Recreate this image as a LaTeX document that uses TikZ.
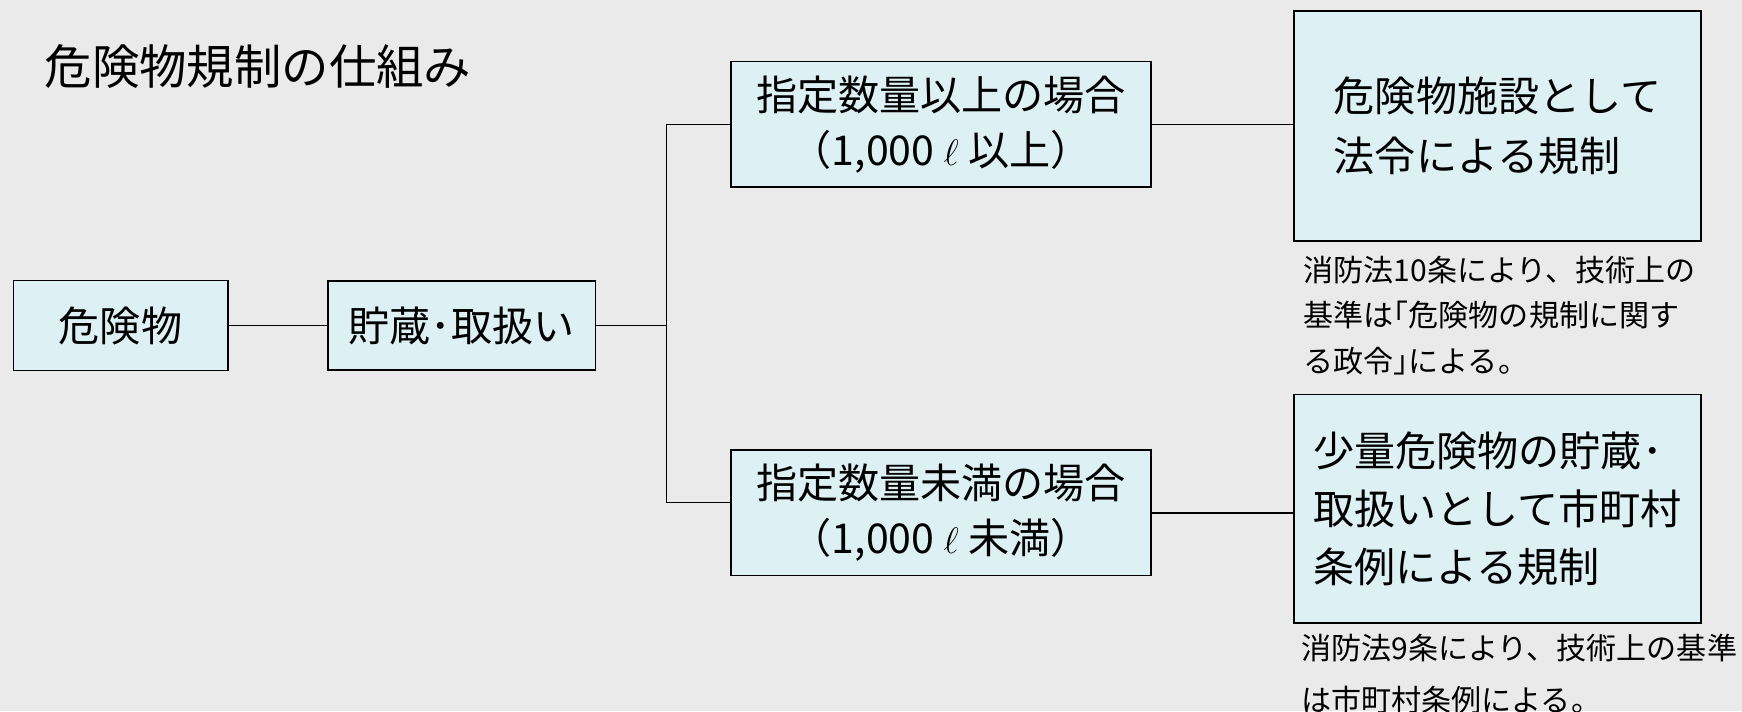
\documentclass[tikz,border=0pt]{standalone}
\usepackage{fontspec}
\setmainfont{Noto Sans CJK JP}
\definecolor{bggray}{RGB}{234,234,234}
\definecolor{boxcyan}{RGB}{221,240,243}

\begin{document}
\begin{tikzpicture}[x=0.75pt,y=0.75pt,yscale=-1,xscale=1,
    box/.style={draw=black, fill=boxcyan, line width=1.1pt, inner sep=0pt, font=\fontsize{27.75}{37.5}\selectfont},
    link/.style={draw=black, line width=1.1pt},
    note/.style={anchor=west, inner sep=0pt, align=left, font=\fontsize{20.3}{30.75}\selectfont}]

            % Background
            \useasboundingbox (0,0) rectangle (1568,640);
            \fill[bggray] (0,0) rectangle (1568,640);

            % Title
            \node (title) [anchor=west, inner sep=0pt, font=\fontsize{32}{38}\selectfont] at (40,60) {危険物規制の仕組み};

            % Boxes
            \node (kiken) [box, minimum width=144.75pt, minimum height=60.75pt] at (108.5,293) {危険物};
            \node (chozo) [box, minimum width=180.75pt, minimum height=60pt] at (415.5,293) {貯蔵･取扱い};
            \node (ijou) [box, minimum width=283.5pt, minimum height=84.75pt, align=center] at (847,112) {指定数量以上の場合\\（1,000 $\ell$ 以上）};
            \node (miman) [box, minimum width=283.5pt, minimum height=84.75pt, align=center] at (847,461.5) {指定数量未満の場合\\（1,000 $\ell$ 未満）};
            \node (shisetsu) [box, minimum width=274.5pt, minimum height=155.25pt, align=left, font=\fontsize{27.75}{40.5}\selectfont] at (1348,113.5) {危険物施設として\\法令による規制};
            \node (shoryo) [box, minimum width=274.5pt, minimum height=154.5pt, align=left, font=\fontsize{27.75}{39}\selectfont] at (1348,458) {少量危険物の貯蔵･\\取扱いとして市町村\\条例による規制};

            % Notes
            \node (note10) [note] at (1173,284) {消防法10条により、技術上の\\基準は｢危険物の規制に関す\\る政令｣による。};
            \node (note9) [note, font=\fontsize{20.3}{35}\selectfont] at (1171,606.5) {消防法9条により、技術上の基準\\は市町村条例による。};

            % Lines
            \coordinate (split) at (600,293);
            \draw[link] (kiken) -- (chozo);
            \draw[link] (chozo.east) -- (split);
            \draw[link] (split) |- (ijou.west);
            \draw[link] (split) |- ([yshift=-7pt]miman.west);
            \draw[link] (ijou.east) -- (ijou.east -| shisetsu.west);
            \draw[link] (miman.east) -- (miman.east -| shoryo.west);

\end{tikzpicture}
\end{document}
